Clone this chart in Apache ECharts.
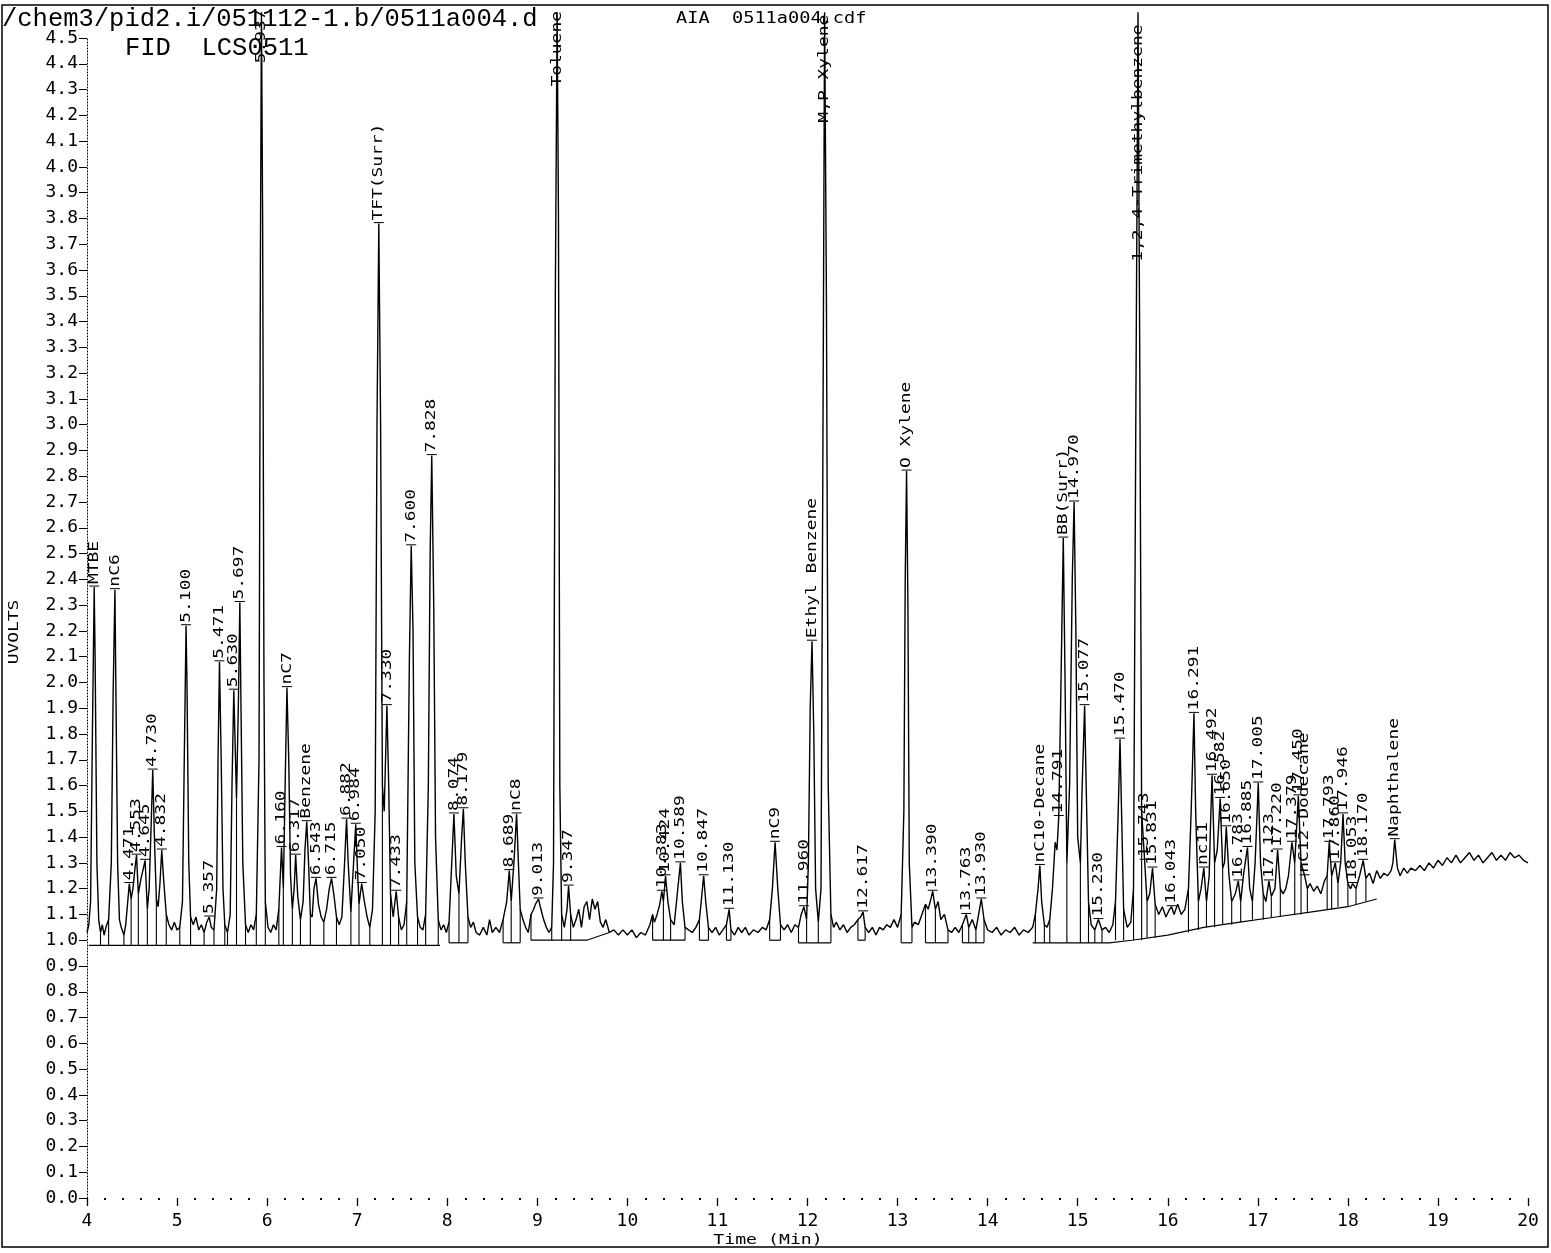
<!DOCTYPE html>
<html><head><meta charset="utf-8">
<script src="https://cdn.jsdelivr.net/npm/echarts@6/dist/echarts.min.js"></script>
<style>html,body{margin:0;padding:0;background:#fff}#c{width:1551px;height:1253px}</style>
</head><body><div id="c"></div>
<script>
// ---- Chromatogram trace (time in min, signal in UVOLTS) ----
const traceA = [[4.00,1.03],[4.02,1.06],[4.04,1.15],[4.06,1.8],[4.08,2.37],[4.09,2.1],[4.11,1.3],[4.13,1.08],[4.15,1.03],[4.17,1.06],[4.19,1.02],[4.21,1.05],[4.24,1.08],[4.27,1.3],[4.29,1.95],[4.31,2.36],[4.32,2.0],[4.34,1.3],[4.36,1.08],[4.38,1.05],[4.41,1.02],[4.43,1.06],[4.45,1.14],[4.47,1.22],[4.49,1.16],[4.51,1.2],[4.53,1.27],[4.55,1.33],[4.57,1.18],[4.60,1.24],[4.62,1.27],[4.645,1.31],[4.67,1.12],[4.69,1.2],[4.71,1.42],[4.73,1.66],[4.75,1.38],[4.77,1.16],[4.79,1.13],[4.81,1.22],[4.83,1.35],[4.85,1.24],[4.88,1.1],[4.91,1.06],[4.94,1.04],[4.97,1.07],[5.00,1.04]];
const traceB = [[5.03,1.05],[5.06,1.15],[5.08,1.7],[5.10,2.22],[5.11,2.0],[5.13,1.3],[5.15,1.09],[5.18,1.06],[5.21,1.09],[5.24,1.04],[5.27,1.06],[5.30,1.03],[5.33,1.07],[5.357,1.09],[5.38,1.05],[5.41,1.04],[5.44,1.2],[5.455,1.7],[5.471,2.08],[5.49,1.7],[5.51,1.2],[5.53,1.06],[5.56,1.03],[5.59,1.1],[5.61,1.6],[5.63,1.97],[5.66,1.55],[5.68,1.9],[5.697,2.31],[5.71,1.9],[5.73,1.3],[5.76,1.06],[5.79,1.03],[5.82,1.06],[5.85,1.04],[5.88,1.1],[5.91,1.7],[5.925,3.6],[5.937,4.6],[5.95,3.8],[5.965,2.0],[5.98,1.15]];
const traceC = [[6.01,1.05],[6.04,1.03],[6.07,1.06],[6.10,1.04],[6.13,1.12],[6.16,1.36],[6.18,1.2],[6.20,1.6],[6.22,1.98],[6.24,1.7],[6.26,1.25],[6.28,1.12],[6.30,1.2],[6.317,1.33],[6.34,1.17],[6.37,1.08],[6.40,1.15],[6.42,1.35],[6.44,1.46],[6.46,1.3],[6.48,1.1],[6.50,1.09],[6.52,1.2],[6.543,1.24],[6.57,1.14],[6.60,1.09],[6.63,1.07],[6.66,1.12],[6.69,1.2],[6.715,1.24],[6.74,1.18],[6.77,1.09],[6.80,1.06],[6.83,1.09],[6.86,1.3],[6.882,1.47],[6.90,1.3],[6.93,1.11],[6.96,1.3],[6.984,1.45],[7.00,1.3]];
const traceD = [[7.02,1.14],[7.05,1.22],[7.08,1.15],[7.11,1.09],[7.14,1.05],[7.17,1.12],[7.20,1.5],[7.22,3.0],[7.24,3.78],[7.26,3.0],[7.28,1.6],[7.30,1.5],[7.33,1.91],[7.35,1.6],[7.37,1.18],[7.40,1.09],[7.433,1.19],[7.46,1.09],[7.49,1.04],[7.52,1.06],[7.55,1.15],[7.58,2.1],[7.60,2.53],[7.62,2.2],[7.64,1.3],[7.67,1.09],[7.70,1.05],[7.73,1.04],[7.76,1.1],[7.79,1.6],[7.81,2.5],[7.828,2.88],[7.85,2.3],[7.87,1.4],[7.90,1.08],[7.93,1.04],[7.96,1.06],[7.99,1.03]];
const traceE = [[8.02,1.07],[8.05,1.3],[8.074,1.49],[8.10,1.25],[8.13,1.18],[8.16,1.4],[8.179,1.51],[8.20,1.3],[8.23,1.09],[8.26,1.05],[8.29,1.07],[8.32,1.03],[8.36,1.02],[8.40,1.05],[8.44,1.02],[8.47,1.08],[8.50,1.03],[8.54,1.05],[8.58,1.03],[8.62,1.08],[8.66,1.15],[8.689,1.27],[8.71,1.15],[8.74,1.3],[8.77,1.49],[8.79,1.3],[8.81,1.12],[8.84,1.08],[8.87,1.05],[8.90,1.03],[8.93,1.1],[8.96,1.12],[8.98,1.14],[9.013,1.16],[9.04,1.12],[9.07,1.08],[9.10,1.05],[9.13,1.03],[9.16,1.05]];
const traceF = [[9.18,1.3],[9.20,3.5],[9.22,4.6],[9.235,3.8],[9.25,1.6],[9.27,1.1],[9.30,1.05],[9.33,1.12],[9.347,1.21],[9.37,1.1],[9.40,1.05],[9.43,1.08],[9.46,1.12],[9.49,1.05],[9.52,1.13],[9.55,1.15],[9.58,1.08],[9.61,1.16],[9.64,1.12],[9.67,1.15],[9.70,1.07],[9.73,1.05],[9.76,1.08],[9.80,1.03],[9.85,1.04],[9.90,1.02],[9.95,1.04],[10.00,1.02]];
const traceG = [[10.05,1.04],[10.10,1.01],[10.15,1.03],[10.20,1.02],[10.25,1.06],[10.28,1.1],[10.30,1.07],[10.33,1.1],[10.36,1.14],[10.383,1.19],[10.40,1.15],[10.424,1.25],[10.45,1.15],[10.48,1.08],[10.52,1.06],[10.56,1.2],[10.589,1.30],[10.61,1.15],[10.64,1.05],[10.68,1.04],[10.72,1.03],[10.76,1.05],[10.80,1.08],[10.82,1.15],[10.847,1.25],[10.87,1.15],[10.90,1.05],[10.94,1.03],[10.98,1.05],[11.02,1.02],[11.06,1.04],[11.10,1.06],[11.13,1.12],[11.15,1.04],[11.19,1.02],[11.23,1.05],[11.27,1.03],[11.31,1.05],[11.35,1.02],[11.40,1.04],[11.45,1.03],[11.50,1.05]];
const traceH = [[11.54,1.04],[11.58,1.08],[11.61,1.2],[11.64,1.38],[11.67,1.2],[11.70,1.06],[11.74,1.04],[11.78,1.06],[11.82,1.03],[11.86,1.06],[11.90,1.05],[11.93,1.10],[11.96,1.13],[11.99,1.08],[12.01,1.3],[12.03,1.9],[12.05,2.16],[12.07,1.8],[12.09,1.2],[12.12,1.07],[12.15,1.2],[12.17,2.8],[12.19,4.6],[12.21,3.5],[12.23,1.6],[12.26,1.1],[12.29,1.05],[12.32,1.07],[12.36,1.04],[12.40,1.06],[12.44,1.03],[12.48,1.05],[12.52,1.06],[12.56,1.08],[12.59,1.09],[12.617,1.11],[12.64,1.05],[12.68,1.03],[12.72,1.05],[12.76,1.02],[12.80,1.05],[12.84,1.04],[12.88,1.06],[12.92,1.05],[12.96,1.08],[13.00,1.05]];
const traceI = [[13.04,1.1],[13.07,1.5],[13.085,2.4],[13.10,2.82],[13.115,2.3],[13.13,1.3],[13.16,1.05],[13.19,1.07],[13.23,1.06],[13.27,1.1],[13.31,1.14],[13.34,1.12],[13.37,1.16],[13.39,1.19],[13.42,1.12],[13.45,1.15],[13.48,1.08],[13.52,1.1],[13.56,1.04],[13.60,1.03],[13.64,1.05],[13.68,1.03],[13.72,1.06],[13.763,1.10],[13.79,1.05],[13.83,1.08],[13.87,1.04],[13.90,1.1],[13.93,1.16],[13.96,1.08],[14.00,1.04],[14.05,1.03],[14.10,1.05],[14.15,1.02],[14.20,1.04],[14.25,1.03],[14.30,1.05],[14.35,1.02],[14.40,1.04],[14.45,1.03]];
const traceJ = [[14.50,1.05],[14.53,1.1],[14.56,1.2],[14.58,1.29],[14.60,1.15],[14.63,1.06],[14.66,1.05],[14.69,1.08],[14.72,1.2],[14.75,1.38],[14.77,1.35],[14.79,1.48],[14.81,1.9],[14.84,2.56],[14.86,2.0],[14.88,1.3],[14.91,1.6],[14.94,2.4],[14.96,2.70],[14.98,2.2],[15.00,1.4],[15.03,1.3],[15.05,1.6],[15.077,1.91],[15.10,1.5],[15.12,1.15],[15.15,1.06],[15.19,1.04],[15.23,1.08],[15.27,1.04],[15.31,1.05],[15.35,1.03],[15.39,1.06],[15.42,1.15],[15.45,1.5],[15.47,1.78],[15.49,1.45],[15.51,1.12],[15.55,1.05],[15.59,1.07],[15.62,1.2],[15.645,3.0],[15.67,4.6],[15.69,3.2],[15.71,1.5],[15.743,1.31],[15.77,1.15],[15.80,1.18],[15.831,1.28],[15.86,1.14],[15.90,1.1],[15.94,1.13],[15.98,1.09]];
const traceK = [[16.02,1.12],[16.043,1.13],[16.07,1.1],[16.11,1.14],[16.15,1.1],[16.19,1.12],[16.23,1.2],[16.26,1.5],[16.291,1.88],[16.31,1.5],[16.34,1.15],[16.37,1.2],[16.40,1.28],[16.43,1.15],[16.46,1.25],[16.475,1.45],[16.492,1.64],[16.52,1.3],[16.55,1.35],[16.582,1.55],[16.61,1.28],[16.63,1.3],[16.65,1.44],[16.68,1.25],[16.71,1.15],[16.75,1.18],[16.783,1.23],[16.81,1.15],[16.84,1.25],[16.86,1.3],[16.885,1.36],[16.91,1.2],[16.94,1.15],[16.97,1.3],[17.005,1.61]];
const traceL = [[17.03,1.3],[17.06,1.18],[17.09,1.15],[17.123,1.23],[17.15,1.17],[17.19,1.2],[17.22,1.35],[17.25,1.2],[17.28,1.18],[17.31,1.2],[17.34,1.25],[17.379,1.38],[17.41,1.3],[17.45,1.56],[17.48,1.3],[17.52,1.25],[17.55,1.2],[17.58,1.22],[17.62,1.19],[17.66,1.21],[17.70,1.18],[17.74,1.23],[17.77,1.25],[17.793,1.38],[17.82,1.25],[17.86,1.30],[17.89,1.22],[17.92,1.3],[17.946,1.49],[17.97,1.3],[18.00,1.22],[18.03,1.2],[18.053,1.22],[18.09,1.2],[18.13,1.25],[18.17,1.31],[18.20,1.24],[18.24,1.26],[18.28,1.22],[18.32,1.27],[18.36,1.24],[18.40,1.26],[18.44,1.25],[18.48,1.27]];
const traceM = [[18.50,1.3],[18.52,1.39],[18.55,1.28],[18.58,1.25],[18.62,1.28],[18.66,1.26],[18.70,1.28],[18.75,1.27],[18.80,1.29],[18.85,1.27],[18.90,1.30],[18.95,1.28],[19.00,1.31],[19.05,1.29],[19.10,1.32],[19.15,1.30],[19.20,1.33],[19.25,1.30],[19.30,1.32],[19.35,1.34],[19.40,1.31],[19.45,1.33],[19.50,1.30],[19.55,1.32],[19.60,1.34],[19.65,1.31],[19.70,1.33],[19.75,1.31],[19.80,1.34],[19.85,1.32],[19.90,1.33],[19.95,1.31],[20.00,1.30]];

// ---- Peak annotations ----
const labelTexts = ['MTBE','nC6','4.471','4.553','4.645','4.730','4.832','5.100','5.357','5.471','5.630','5.697','5.937','6.160','nC7','6.317','Benzene','6.543','6.715','6.882','6.984','7.050','TFT(Surr)','7.330','7.433','7.600','7.828','8.074','8.179','8.689','nC8','9.013','Toluene','9.347','10.383','10.424','10.589','10.847','11.130','nC9','11.960','Ethyl Benzene','M,P Xylene','12.617','O Xylene','13.390','13.763','13.930','nC10-Decane','14.791','BB(Surr)','14.970','15.077','15.230','15.470','1,2,4-Trimethylbenzene','15.743','15.831','16.043','16.291','nc11','16.492','16.582','16.650','16.783','16.885','17.005','17.123','17.220','17.379','17.450','nC12-Dodecane','17.793','17.860','17.946','18.053','18.170','Naphthalene'];
const labelTimes = [4.08,4.31,4.47,4.55,4.645,4.73,4.83,5.10,5.357,5.471,5.63,5.697,5.937,6.16,6.22,6.317,6.44,6.543,6.715,6.882,6.984,7.05,7.24,7.33,7.433,7.60,7.828,8.074,8.179,8.689,8.77,9.013,9.22,9.347,10.383,10.424,10.589,10.847,11.13,11.64,11.96,12.05,12.19,12.617,13.10,13.39,13.763,13.93,14.58,14.79,14.84,14.96,15.077,15.23,15.47,15.67,15.743,15.831,16.043,16.291,16.40,16.492,16.582,16.65,16.783,16.885,17.005,17.123,17.22,17.379,17.45,17.52,17.793,17.86,17.946,18.053,18.17,18.52];
const labelValues = [2.37,2.36,1.22,1.33,1.31,1.66,1.35,2.22,1.09,2.08,1.97,2.31,4.39,1.36,1.98,1.33,1.46,1.24,1.24,1.47,1.45,1.22,3.78,1.91,1.19,2.53,2.88,1.49,1.51,1.27,1.49,1.16,4.30,1.21,1.19,1.25,1.30,1.25,1.12,1.38,1.13,2.16,4.16,1.11,2.82,1.19,1.10,1.16,1.29,1.48,2.56,2.70,1.91,1.08,1.78,3.62,1.31,1.28,1.13,1.88,1.28,1.64,1.55,1.44,1.23,1.36,1.61,1.23,1.35,1.38,1.56,1.25,1.38,1.30,1.49,1.22,1.31,1.39];
const offScaleLabels = ['5.937','Toluene','M,P Xylene','1,2,4-Trimethylbenzene'];

// ---- Integration baselines and drop lines ----
const baseLines = [
  [[4.02,0.98],[7.92,0.98]],
  [[8.02,0.99],[8.23,0.99]],
  [[8.62,0.99],[8.81,0.99]],
  [[8.93,1.00],[9.55,1.00],[9.80,1.03]],
  [[10.28,1.00],[10.64,1.00]],
  [[10.80,1.00],[10.90,1.00]],
  [[11.10,1.00],[11.15,1.00]],
  [[11.58,1.00],[11.70,1.00]],
  [[11.90,0.99],[12.26,0.99]],
  [[12.56,1.00],[12.64,1.00]],
  [[13.04,0.99],[13.16,0.99]],
  [[13.31,0.99],[13.56,0.99]],
  [[13.72,0.99],[13.96,0.99]],
  [[14.50,0.99],[15.00,0.99],[15.35,0.99],[15.60,1.00],[16.00,1.02],[16.40,1.05],[16.80,1.07],[17.20,1.09],[17.60,1.11],[18.00,1.13],[18.32,1.16]]
];
const dropLines = [[4.15,0.98],[4.24,0.98],[4.41,0.98],[4.49,0.98],[4.57,0.98],[4.67,0.98],[4.77,0.98],[4.88,0.98],[5.03,0.98],[5.15,0.98],[5.30,0.98],[5.41,0.98],[5.53,0.98],[5.56,0.98],[5.66,0.98],[5.76,0.98],[5.88,0.98],[5.98,0.98],[6.13,0.98],[6.18,0.98],[6.28,0.98],[6.37,0.98],[6.48,0.98],[6.63,0.98],[6.77,0.98],[6.93,0.98],[7.02,0.98],[7.14,0.98],[7.28,0.98],[7.37,0.98],[7.46,0.98],[7.55,0.98],[7.67,0.98],[7.76,0.98],[7.90,0.98],
  [8.02,0.99],[8.13,0.99],[8.23,0.99],[8.62,0.99],[8.71,0.99],[8.81,0.99],[8.93,1.0],[9.16,1.0],[9.27,1.0],[9.37,1.0],[10.28,1.0],[10.40,1.0],[10.48,1.0],[10.64,1.0],[10.80,1.0],[10.90,1.0],[11.10,1.0],[11.15,1.0],[11.58,1.0],[11.70,1.0],[11.90,0.99],[11.99,0.99],[12.12,0.99],[12.26,0.99],[12.56,1.0],[12.64,1.0],[13.04,0.99],[13.16,0.99],[13.31,0.99],[13.42,0.99],[13.56,0.99],[13.72,0.99],[13.79,0.99],[13.87,0.99],[13.96,0.99],
  [14.53,0.99],[14.63,0.99],[14.69,0.99],[14.88,0.99],[15.03,0.99],[15.12,0.99],[15.19,0.99],[15.27,0.99],[15.42,1.0],[15.51,1.0],[15.62,1.0],[15.71,1.0],[15.77,1.01],[15.86,1.01],[16.23,1.03],[16.34,1.04],[16.43,1.05],[16.52,1.05],[16.61,1.06],[16.71,1.06],[16.81,1.07],[16.94,1.08],[17.06,1.08],[17.15,1.09],[17.25,1.09],[17.41,1.10],[17.48,1.10],[17.55,1.11],[17.77,1.12],[17.82,1.12],[17.89,1.13],[18.00,1.13],[18.09,1.14],[18.20,1.15]];

// ---- Axis ----
const xMin = 4, xMax = 20, xStep = 1;
const yMin = 0, yMax = 4.5, yStep = 0.1;

const trace = [].concat(traceA,traceB,traceC,traceD,traceE,traceF,traceG,traceH,traceI,traceJ,traceK,traceL,traceM);
function traceAt(t){ for(const p of trace){ if(Math.abs(p[0]-t)<1e-6) return p[1]; } return null; }
const dropData = dropLines.map(d => [d[0], d[1], traceAt(d[0])]).filter(d => d[2] !== null);

const MONO = '"DejaVu Sans Mono", monospace';
const chart = echarts.init(document.getElementById('c'), null, {renderer:'canvas'});
chart.setOption({
  animation: false,
  backgroundColor: '#fff',
  grid: {left: 87, right: 23, top: 38, bottom: 55},
  xAxis: {type:'value', min:xMin, max:xMax, interval:xStep, offset:4,
    axisLine:{show:false},
    axisTick:{show:true, length:8, lineStyle:{color:'#000', width:1.3}},
    minorTick:{show:true, splitNumber:5, length:2, lineStyle:{color:'#000', width:2}},
    axisLabel:{color:'#000', fontFamily:'DejaVu Sans Mono', fontSize:18, margin:10},
    splitLine:{show:false}},
  yAxis: {type:'value', min:yMin, max:yMax, interval:yStep,
    axisLine:{show:true, lineStyle:{color:'#000', type:[1,2], width:1}},
    axisTick:{show:true, length:8, lineStyle:{color:'#000', width:1}},
    axisLabel:{color:'#000', fontFamily:'DejaVu Sans Mono', fontSize:18, margin:9, formatter: v => v.toFixed(1)},
    splitLine:{show:false}},
  series: [
    {type:'line', data: trace, symbol:'none', showSymbol:false, clip:false,
     lineStyle:{color:'#000', width:1.4}, z:3},
    {type:'custom', data: baseLines.map((b,i)=>[b[0][0], b[0][1], i]), z:2,
     renderItem: function(params, api){
       const pts = baseLines[api.value(2)].map(p => api.coord(p));
       return {type:'polyline', shape:{points:pts}, style:{stroke:'#000', lineWidth:1.2, fill:null}};
     }},
    {type:'custom', data: dropData, z:2,
     renderItem: function(params, api){
       const a = api.coord([api.value(0), api.value(1)]);
       const b = api.coord([api.value(0), api.value(2)]);
       return {type:'line', shape:{x1:a[0], y1:a[1], x2:b[0], y2:b[1]}, style:{stroke:'#000', lineWidth:1.1}};
     }},
    {type:'custom', data: labelTimes.map((t,i)=>[t, labelValues[i], i]), z:4, clip:false,
     renderItem: function(params, api){
       const i = api.value(2);
       const p = api.coord([api.value(0), api.value(1)]);
       const txt = labelTexts[i];
       const children = [];
       if (offScaleLabels.indexOf(txt) < 0) {
         children.push({type:'line', shape:{x1:p[0]-5, y1:p[1]-1, x2:p[0]+5, y2:p[1]-1}, style:{stroke:'#000', lineWidth:1}});
       }
       children.push({type:'text', x:p[0], y:p[1]-3, rotation:Math.PI/2, scaleX:1.28,
         style:{text:txt, font:'14px ' + MONO, fill:'#000', align:'left', textAlign:'left', verticalAlign:'middle', textVerticalAlign:'middle'}});
       return {type:'group', children: children};
     }}
  ],
  graphic: [
    {type:'rect', shape:{x:2, y:5, width:1546, height:1242}, style:{fill:'none', stroke:'#000', lineWidth:1.5}, z:0},
    {type:'text', x:2, y:19, style:{text:'/chem3/pid2.i/051112-1.b/0511a004.d', font:'25.5px "Liberation Mono", monospace', fill:'#000', align:'left', textAlign:'left', verticalAlign:'middle', textVerticalAlign:'middle'}, z:10},
    {type:'text', x:125, y:48, style:{text:'FID  LCS0511', font:'25.5px "Liberation Mono", monospace', fill:'#000', align:'left', textAlign:'left', verticalAlign:'middle', textVerticalAlign:'middle'}, z:10},
    {type:'text', x:676, y:19, scaleX:1.24, style:{text:'AIA  0511a004.cdf', font:'15px ' + MONO, fill:'#000', align:'left', textAlign:'left', verticalAlign:'middle', textVerticalAlign:'middle'}, z:10},
    {type:'text', x:14, y:632, rotation:Math.PI/2, scaleX:1.28, style:{text:'UVOLTS', font:'14px ' + MONO, fill:'#000', align:'center', textAlign:'center', verticalAlign:'middle', textVerticalAlign:'middle'}, z:10},
    {type:'text', x:768, y:1240, scaleX:1.3, style:{text:'Time (Min)', font:'14px ' + MONO, fill:'#000', align:'center', textAlign:'center', verticalAlign:'middle', textVerticalAlign:'middle'}, z:10}
  ]
});
</script></body></html>
